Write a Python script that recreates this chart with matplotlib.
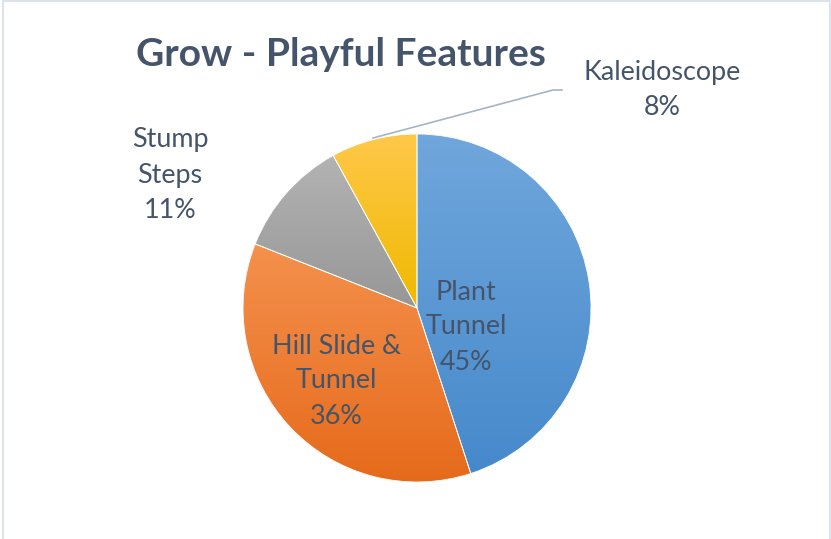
import numpy as np
import matplotlib.pyplot as plt
from matplotlib.patches import Wedge

# data
labels = ["Plant\nTunnel", "Hill Slide &\nTunnel", "Stump\nSteps", "Kaleidoscope"]
values = [45, 36, 11, 8]
top_colors = ["#70a7dc", "#f4914d", "#b3b3b3", "#ffc84a"]
bottom_colors = ["#4689cb", "#e66a1b", "#979797", "#efb900"]

W, H = 831, 539
text_col = "#44546a"
plt.rcParams['font.family'] = ['Lato', 'DejaVu Sans']

fig = plt.figure(figsize=(W / 100, H / 100), dpi=100)
ax = fig.add_axes([0, 0, 1, 1])

cx, cy, r = 417, H - 308, 174
wedges, _ = ax.pie(values, startangle=90, counterclock=False, radius=r,
                   center=(cx, cy), frame=True,
                   wedgeprops=dict(edgecolor='white', linewidth=0.6))


def hex2rgb(h):
    h = h.lstrip('#')
    return np.array([int(h[i:i + 2], 16) / 255 for i in (0, 2, 4)])


# vertical gradient fill per slice
for w, c1, c2 in zip(wedges, top_colors, bottom_colors):
    bb = w.get_path().get_extents(w.get_patch_transform())
    t = np.linspace(0, 1, 256)[:, None]
    grad = hex2rgb(c1)[None, :] * (1 - t) + hex2rgb(c2)[None, :] * t
    img = np.repeat(grad[:, None, :], 2, axis=1)
    w.set_facecolor(tuple((hex2rgb(c1) + hex2rgb(c2)) / 2))
    im = ax.imshow(img, extent=(bb.x0, bb.x1, bb.y0, bb.y1), origin='upper',
                   aspect='auto', zorder=w.get_zorder() + 0.1)
    im.set_clip_path(w)

# thin white separators on top of the gradients
for w in wedges:
    ax.add_patch(Wedge((cx, cy), r, w.theta1, w.theta2, facecolor='none',
                       edgecolor='white', linewidth=0.6, zorder=5))

ax.set_xlim(0, W)
ax.set_ylim(0, H)
ax.set_aspect('equal')
ax.axis('off')

# title
ax.text(341, H - 55, "Grow - Playful Features", ha='center', va='center',
        fontsize=28, fontweight='bold', color=text_col)

# data labels
fs = 19.4
ls = 1.5
ax.text(466, H - 327, labels[0] + "\n45%", ha='center', va='center',
        fontsize=fs, color=text_col, linespacing=ls, zorder=10)
ax.text(336, H - 381, labels[1] + "\n36%", ha='center', va='center',
        fontsize=fs, color=text_col, linespacing=ls, zorder=10)
ax.text(170, H - 175, labels[2] + "\n11%", ha='center', va='center',
        fontsize=fs, color=text_col, linespacing=ls, zorder=10)
ax.text(662, H - 90, labels[3] + "\n8%", ha='center', va='center',
        fontsize=fs, color=text_col, linespacing=ls, zorder=10)

# leader line for Kaleidoscope
ax.plot([373, 553, 562], [H - 138, H - 90, H - 90], color='#a6b4c4',
        linewidth=1.2, zorder=6)

# light frame (left, top, right)
ax.plot([2.5, 2.5, 829.5, 829.5], [0, H - 0.5, H - 0.5, 0],
        color='#dde3ea', linewidth=1.5, zorder=20, solid_joinstyle='miter')

fig.savefig('out.png', dpi=100)
